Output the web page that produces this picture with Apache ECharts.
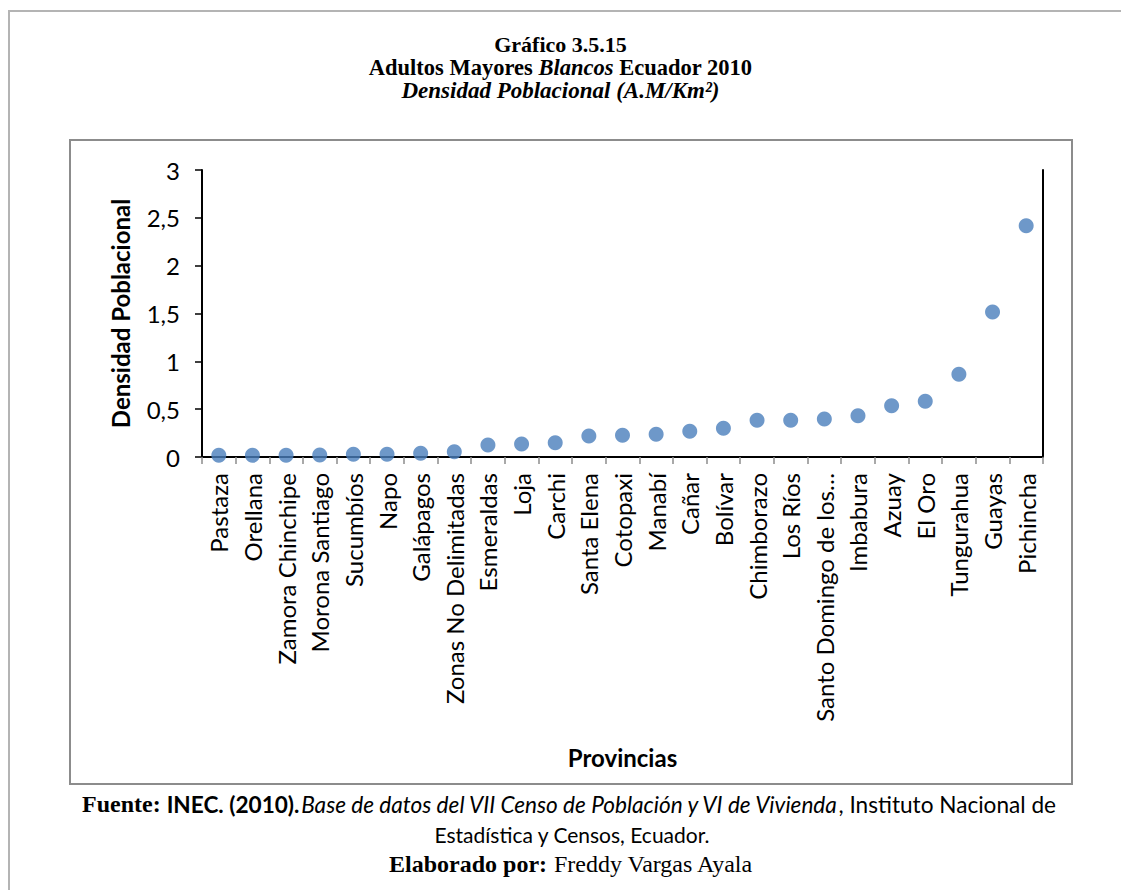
<!DOCTYPE html>
<html>
<head>
<meta charset="utf-8">
<script src="https://cdn.jsdelivr.net/npm/echarts@6/dist/echarts.min.js"></script>
<style>
html,body{margin:0;padding:0;background:#fff;}
#chart{width:1121px;height:890px;}
</style>
</head>
<body>
<div id="chart"></div>
<script>
const provincias = ["Pastaza","Orellana","Zamora Chinchipe","Morona Santiago","Sucumbíos","Napo","Galápagos","Zonas No Delimitadas","Esmeraldas","Loja","Carchi","Santa Elena","Cotopaxi","Manabí","Cañar","Bolívar","Chimborazo","Los Ríos","Santo Domingo de los…","Imbabura","Azuay","El Oro","Tungurahua","Guayas","Pichincha"];
const densidad = [0.018,0.018,0.018,0.02,0.028,0.028,0.039,0.056,0.125,0.136,0.15,0.22,0.227,0.237,0.268,0.30,0.383,0.383,0.397,0.432,0.536,0.582,0.864,1.515,2.417];
const yTicks = {min:0, max:3, interval:0.5};

const sans = 'Lato';
const serif = 'Liberation Serif';
const chart = echarts.init(document.getElementById('chart'), null, {renderer:'svg'});
chart.setOption({
  animation:false,
  backgroundColor:'#fff',
  title:[{
    left:'center', top:28,
    text:'Gráfico 3.5.15',
    textStyle:{fontFamily:serif,fontWeight:'bold',fontSize:22,lineHeight:22,color:'#000'}
  },{
    left:'center', top:51,
    text:'{b|Adultos Mayores }{bi|Blancos}{b| Ecuador 2010}',
    textStyle:{rich:{
      b:{fontFamily:serif,fontWeight:'bold',fontSize:22.5,lineHeight:22.5,color:'#000'},
      bi:{fontFamily:serif,fontWeight:'bold',fontStyle:'italic',fontSize:22.5,lineHeight:22.5,color:'#000'}
    }}
  },{
    left:'center', top:74,
    text:'{bi|Densidad Poblacional}{i| (A.M/Km²)}',
    textStyle:{rich:{
      bi:{fontFamily:serif,fontWeight:'bold',fontStyle:'italic',fontSize:23,lineHeight:23,color:'#000'},
      i:{fontFamily:serif,fontStyle:'italic',fontSize:23,lineHeight:23,color:'#000'}
    }}
  }],
  grid:{left:202, top:170, right:78, bottom:433, containLabel:false},
  xAxis:[{
    type:'category', data:provincias, boundaryGap:true,
    axisLine:{lineStyle:{color:'#8c8c8c',width:2}},
    axisTick:{show:true,interval:0,length:7,lineStyle:{color:'#8c8c8c',width:1.5}},
    axisLabel:{interval:0,rotate:90,margin:16,fontFamily:sans,fontSize:24,color:'#000'},
    name:'Provincias', nameLocation:'middle', nameGap:288,
    nameTextStyle:{fontFamily:sans,fontWeight:'bold',fontSize:24,color:'#000'},
    splitLine:{show:false}
  },{
    type:'category', data:provincias, position:'top',
    axisLine:{show:true,lineStyle:{color:'#000',width:2}},
    axisTick:{show:false}, axisLabel:{show:false}, splitLine:{show:false}
  }],
  yAxis:[{
    type:'value', min:yTicks.min, max:yTicks.max, interval:yTicks.interval,
    axisLine:{show:true,lineStyle:{color:'#000',width:2}},
    axisTick:{show:true,length:7,lineStyle:{color:'#000',width:1.5}},
    axisLabel:{margin:22,fontFamily:sans,fontSize:24,color:'#000',
      formatter:v=>String(v).replace('.',',')},
    splitLine:{show:false},
    name:'Densidad Poblacional', nameLocation:'middle', nameRotate:90, nameGap:70,
    nameTextStyle:{fontFamily:sans,fontWeight:'bold',fontSize:24,color:'#000'}
  },{
    type:'value', min:yTicks.min, max:yTicks.max, interval:yTicks.interval, position:'right',
    axisLine:{show:true,lineStyle:{color:'#000',width:2}},
    axisTick:{show:false}, axisLabel:{show:false}, splitLine:{show:false}
  }],
  series:[{
    type:'scatter', data:densidad, symbol:'circle', symbolSize:15,
    itemStyle:{color:'#4a7ebb'}
  }],
  graphic:[
    {type:'rect', shape:{x:9,y:11,width:1200,height:1000}, style:{fill:null,stroke:'#b4b4b4',lineWidth:2}, silent:true, z:-10},
    {type:'rect', shape:{x:70,y:140,width:1002,height:644}, style:{fill:null,stroke:'#8c8c8c',lineWidth:2}, silent:true, z:-10},
    {type:'text', x:569, y:804, style:{
      text:'{fb|Fuente: }{sb|INEC. (2010).}{si|Base de datos del VII Censo de Población y VI de Vivienda}{s|, Instituto Nacional de}',
      align:'center', verticalAlign:'middle',
      rich:{
        fb:{fontFamily:serif,fontWeight:'bold',fontSize:24,fill:'#000'},
        sb:{fontFamily:sans,fontWeight:'bold',fontSize:22.6,fill:'#000'},
        si:{fontFamily:sans,fontStyle:'italic',fontSize:22.6,fill:'#000'},
        s:{fontFamily:sans,fontSize:22.6,fill:'#000'}
      }}},
    {type:'text', x:572, y:834, style:{text:'Estadística y Censos, Ecuador.', align:'center', verticalAlign:'middle', fontFamily:sans, fontSize:21, fill:'#000'}},
    {type:'text', x:571, y:864, style:{
      text:'{b|Elaborado por: }{r|Freddy Vargas Ayala}',
      align:'center', verticalAlign:'middle',
      rich:{
        b:{fontFamily:serif,fontWeight:'bold',fontSize:24,fill:'#000'},
        r:{fontFamily:serif,fontSize:24,fill:'#000'}
      }}}
  ]
});
</script>
</body>
</html>
